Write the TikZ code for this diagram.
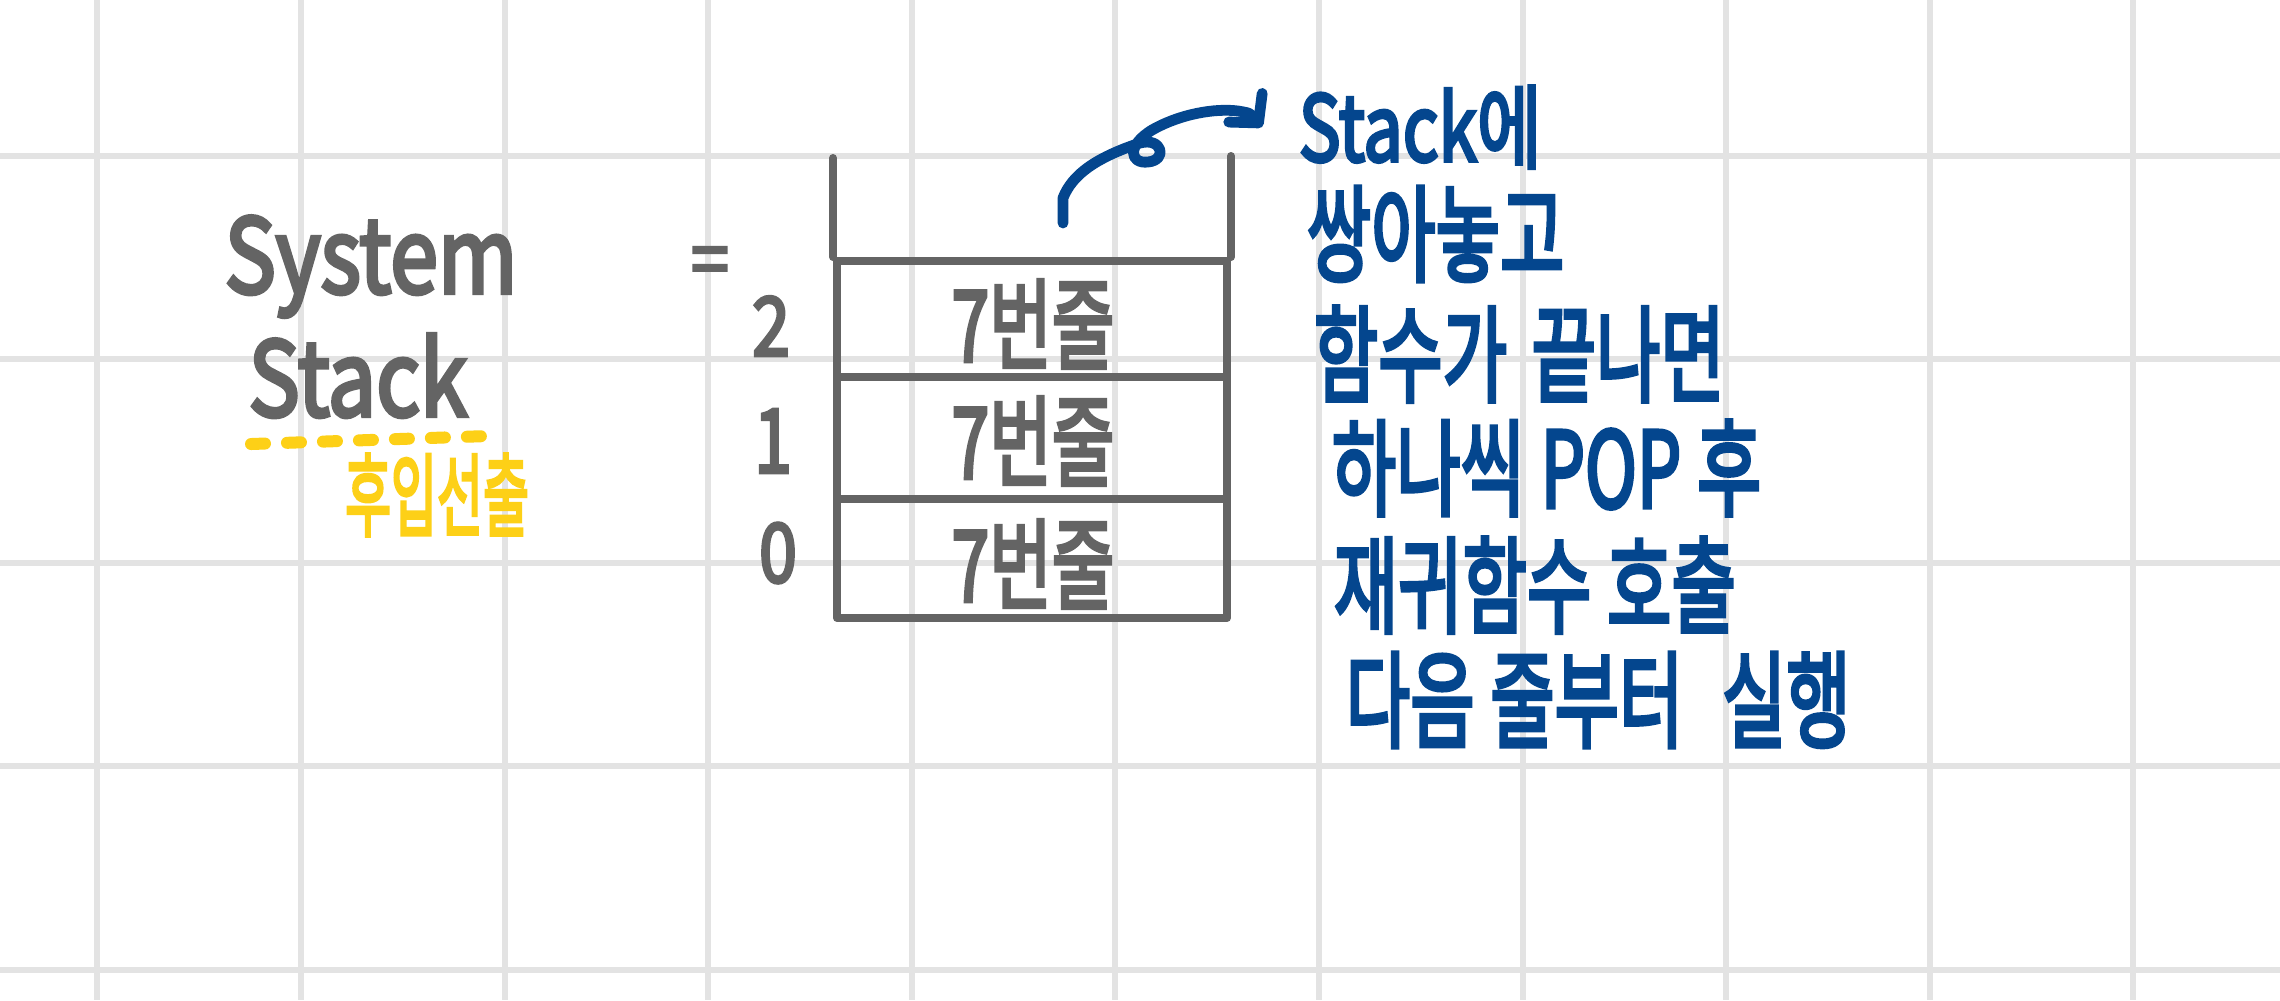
\documentclass[tikz,border=0pt]{standalone}
\usepackage{fontspec}
\usepackage{graphicx}
\usetikzlibrary{arrows.meta}
\newfontfamily\hand{Noto Sans CJK KR}[FakeBold=4]
\newcommand\vstretch[2]{\scalebox{1}[#1]{#2}}
\definecolor{gridc}{RGB}{227,227,227}
\definecolor{ink}{RGB}{100,100,100}
\definecolor{bluei}{RGB}{4,70,142}
\definecolor{yel}{RGB}{253,208,23}
\tikzset{
  gridl/.style={draw=gridc, line width=1.5pt},
  stackl/.style={draw=ink, line width=2pt, line cap=round, line join=round},
  cellbox/.style={draw=ink, line width=2pt, line join=round, minimum width=97.5pt, inner sep=0pt},
  celltxt/.style={text=ink, inner sep=0pt, font=\hand\fontsize{17pt}{20pt}\selectfont},
  graytxt/.style={text=ink, inner sep=0pt, font=\hand\fontsize{17pt}{20pt}\selectfont},
  bigtxt/.style={text=ink, inner sep=0pt, anchor=base, font=\hand\fontsize{21.5pt}{26pt}\selectfont},
  yeltxt/.style={text=yel, inner sep=0pt, font=\hand\fontsize{12.5pt}{15pt}\selectfont},
  yeldash/.style={draw=yel, line width=3pt, line cap=round, dash pattern=on 3.5pt off 5.5pt},
  bluetxt/.style={text=bluei, inner sep=0pt, anchor=west, font=\hand\fontsize{17.5pt}{20pt}\selectfont},
  bluearrow/.style={draw=bluei, line width=2.7pt, line cap=round, line join=round, -{Straight Barb[length=5pt,width=11pt,round]}}
}
\begin{document}
\begin{tikzpicture}[x=0.25pt,y=-0.25pt]
\useasboundingbox (0,0) rectangle (2280,1000);
\fill[white] (0,0) rectangle (2280,1000);
% grid
\foreach \i in {0,...,10} \draw[gridl] (97.4+203.6*\i,0) -- (97.4+203.6*\i,1000);
\foreach \j in {0,...,4} \draw[gridl] (0,155.6+203.6*\j) -- (2280,155.6+203.6*\j);
% left title
\node[bigtxt] (sys) at (371,293) {\vstretch{1.2}{System}};
\node[bigtxt] (stk) at (358,416) {\vstretch{1.2}{Stack}};
\coordinate (dA) at (251,444);
\coordinate (dB) at (488,436);
\draw[yeldash] (dA) -- (dB);
\node[yeltxt] (lifo) at (437,495) {\vstretch{1.8}{후입선출}};
% equals
\node[graytxt] (eq) at (710,267) {\vstretch{1.1}{=}};
% stack cells
\node[cellbox, minimum height=29pt] (c2) at (1032,319) {};
\node[cellbox, minimum height=30.5pt] (c1) at (1032,438) {};
\node[cellbox, minimum height=29.75pt] (c0) at (1032,558.5) {};
\draw[stackl] (c2.north west) -- ++(0,-99);
\draw[stackl] (c2.north east) -- ++(0,-101);
\node[celltxt] (t2) at (1033,324) {\vstretch{1.45}{7번줄}};
\node[celltxt] (t1) at (1033,441) {\vstretch{1.45}{7번줄}};
\node[celltxt] (t0) at (1033,564) {\vstretch{1.45}{7번줄}};
% indices
\node[graytxt] (n2) at (771,326) {\vstretch{1.2}{2}};
\node[graytxt] (n1) at (773,441) {\vstretch{1.3}{1}};
\node[graytxt] (n0) at (778,553) {\vstretch{1.2}{0}};
% blue text
\node[bluetxt] (l1) at (1298,127) {\vstretch{1.3}{Stack에}};
\node[bluetxt] (l2) at (1306,234) {\vstretch{1.5}{쌍아놓고}};
\node[bluetxt] (l3) at (1313,354) {\vstretch{1.5}{함수가\hspace{0.35em}끝나면}};
\node[bluetxt] (l4) at (1331,468) {\vstretch{1.5}{하나씩 POP 후}};
\node[bluetxt] (l5) at (1333,585) {\vstretch{1.5}{재귀함수 호출}};
\node[bluetxt] (l6) at (1345,700) {\vstretch{1.5}{다음 줄부터\hspace{0.55em}실행}};
% arrow
\coordinate (aS) at (1063,223);
\coordinate (aE) at ([xshift=-9pt]l1.west);
\draw[bluearrow] (aS) -- (1063,198) .. controls (1072,175) and (1095,158) .. (1140,143)
  .. controls (1162,137) and (1168,160) .. (1148,162)
  .. controls (1130,164) and (1126,146) .. (1152,130)
  .. controls (1180,114) and (1215,108) .. (1238,111)
  .. controls (1250,113) .. (aE);
\end{tikzpicture}
\end{document}
